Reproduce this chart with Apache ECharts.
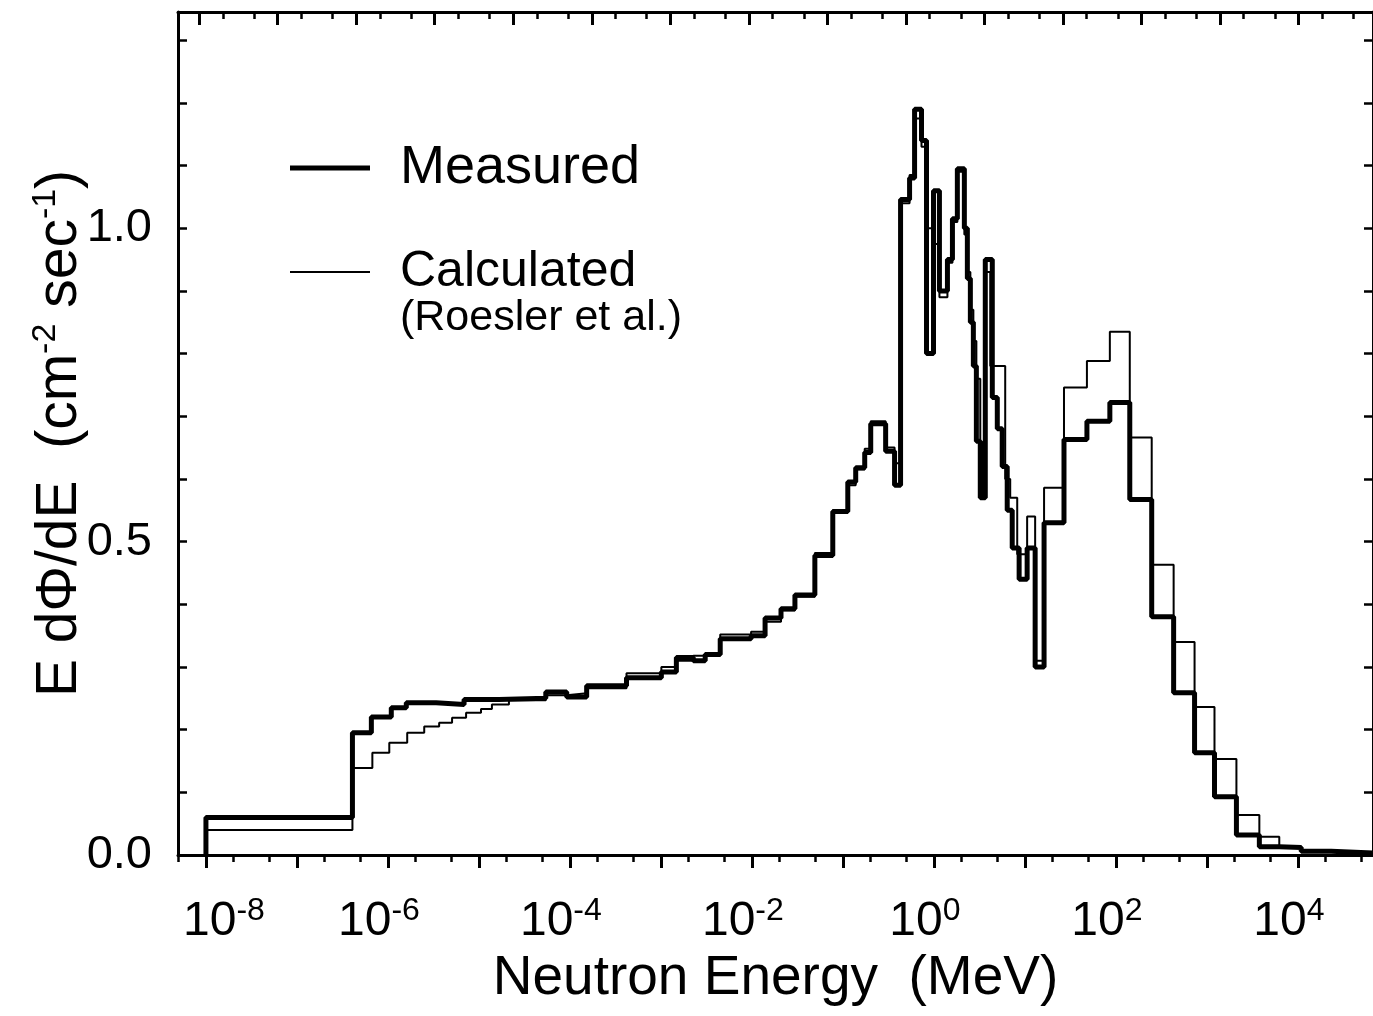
<!DOCTYPE html>
<html><head><meta charset="utf-8">
<script src="https://cdn.jsdelivr.net/npm/echarts@6/dist/echarts.min.js"></script>
<style>html,body{margin:0;padding:0;background:#fff}#c{width:1373px;height:1016px}</style>
</head><body><div id="c"></div>
<script>
// ---- data (bin left edges as log10(E / MeV), flux values) ----
const measuredLogE = [-8.000,-6.390,-6.182,-5.963,-5.798,-5.470,-5.163,-4.780,-4.265,-4.035,-3.816,-3.378,-2.995,-2.830,-2.644,-2.513,-2.348,-2.009,-1.855,-1.680,-1.527,-1.308,-1.111,-0.946,-0.859,-0.760,-0.694,-0.530,-0.432,-0.366,-0.267,-0.212,-0.136,-0.081,-0.004,0.061,0.149,0.204,0.258,0.335,0.368,0.401,0.434,0.467,0.510,0.565,0.642,0.697,0.751,0.806,0.861,0.937,1.025,1.113,1.211,1.430,1.682,1.934,2.153,2.394,2.635,2.865,3.084,3.325,3.577,3.796,4.037,4.366];
const measuredFlux = [0.060,0.195,0.220,0.235,0.243,0.240,0.248,0.250,0.260,0.252,0.270,0.283,0.292,0.315,0.310,0.320,0.345,0.350,0.378,0.393,0.415,0.478,0.548,0.595,0.618,0.642,0.688,0.644,0.590,1.046,1.080,1.190,1.140,0.800,1.060,0.900,0.950,1.015,1.095,1.000,0.920,0.850,0.780,0.660,0.570,0.950,0.730,0.680,0.620,0.550,0.490,0.440,0.490,0.300,0.530,0.663,0.692,0.722,0.567,0.380,0.259,0.163,0.093,0.032,0.013,0.012,0.006,0.003];
const calculatedLogE = [-8.000,-6.390,-6.171,-5.985,-5.788,-5.601,-5.437,-5.295,-5.141,-4.977,-4.857,-4.670,-4.265,-4.035,-3.816,-3.378,-2.995,-2.830,-2.644,-2.513,-2.348,-2.009,-1.855,-1.680,-1.527,-1.308,-1.111,-0.946,-0.859,-0.760,-0.694,-0.530,-0.432,-0.366,-0.267,-0.212,-0.136,-0.081,-0.004,0.061,0.149,0.204,0.258,0.335,0.368,0.401,0.434,0.467,0.510,0.565,0.620,0.784,0.839,0.916,1.025,1.113,1.211,1.430,1.682,1.934,2.153,2.394,2.635,2.865,3.084,3.325,3.577,3.796,4.037,4.366];
const calculatedFlux = [0.040,0.139,0.163,0.179,0.195,0.205,0.211,0.219,0.227,0.233,0.240,0.247,0.255,0.258,0.266,0.290,0.300,0.310,0.318,0.322,0.352,0.356,0.372,0.390,0.412,0.482,0.550,0.590,0.615,0.648,0.692,0.650,0.625,1.040,1.085,1.175,1.130,1.000,0.975,0.890,0.945,1.010,1.090,0.990,0.930,0.870,0.820,0.760,0.650,0.930,0.780,0.600,0.570,0.480,0.540,0.310,0.586,0.746,0.788,0.835,0.666,0.463,0.340,0.236,0.153,0.064,0.029,0.012,0.006,0.003];
const spectrumEndLogE = 4.83;
const energyLabelExponents = [-8,-6,-4,-2,0,2,4];
const energyTickExponents = [-8,-7,-6,-5,-4,-3,-2,-1,0,1,2,3,4];
const fluxLabels = [0, 0.5, 1.0];
const fluxTicks = [0,0.1,0.2,0.3,0.4,0.5,0.6,0.7,0.8,0.9,1.0,1.1,1.2,1.3];
const topTickExponents = [-1,0,1,2,3,4,5,6,7,8,9,10,11,12,13];

const FONT = "'Liberation Sans', Arial, Helvetica, sans-serif";
const pw = e => Math.pow(10, e);

function stepData(logE, flux) {
  const pts = [[pw(logE[0]), 0]];
  for (let i = 0; i < logE.length; i++) pts.push([pw(logE[i]), flux[i]]);
  pts.push([pw(spectrumEndLogE), flux[flux.length - 1]]);
  return pts;
}
function minorsOf(exps) {
  const out = [];
  exps.forEach(k => { out.push(2 * pw(k)); out.push(5 * pw(k)); });
  out.unshift(5 * pw(exps[0] - 1));
  return out;
}

const xMin = pw(-8.307), xMax = pw(4.826);
const tMin = pw(-1.269), tMax = pw(13.947);
const yMin = 0, yMax = 1.345;
const black = '#000';

const chart = echarts.init(document.getElementById('c'), null, {renderer: 'canvas'});
const noSplit = {show: false};
const supStyle = {fontSize: 32, lineHeight: 30, verticalAlign: 'top', fontFamily: FONT, color: black};
chart.setOption({
  animation: false,
  backgroundColor: '#fff',
  grid: {left: 178, right: -4, top: 12, bottom: 161, containLabel: false},
  xAxis: [
    {type: 'log', min: xMin, max: xMax, position: 'bottom',
     axisLine: {show: true, onZero: false, lineStyle: {color: black, width: 3}},
     axisTick: {show: true, inside: false, length: 13, lineStyle: {color: black, width: 3},
                customValues: energyTickExponents.map(pw)},
     axisLabel: {show: true, customValues: energyLabelExponents.map(pw), margin: 40,
                 formatter: v => {
                   const e = Math.round(Math.log10(v));
                   return (e === -8 ? '{a1|10}' : '{a|10}') + '{b|' + e + '}' + (e === -8 ? '' : '{p|}');
                 },
                 rich: {a: {fontSize: 48, lineHeight: 54, fontFamily: FONT, color: black},
                        a1: {fontSize: 48, lineHeight: 54, fontFamily: FONT, color: black, padding: [0, 0, 0, 36]},
                        b: supStyle,
                        p: {width: 18, lineHeight: 54}}},
     splitLine: noSplit, minorTick: {show: false}, minorSplitLine: {show: false},
     name: 'Neutron Energy  (MeV)', nameLocation: 'middle', nameGap: 96, nameMoveOverlap: false,
     nameTextStyle: {fontSize: 55, fontFamily: FONT, color: black}},
    {type: 'log', min: xMin, max: xMax, position: 'bottom',
     axisLine: {show: false, onZero: false},
     axisTick: {show: true, inside: false, length: 7, lineStyle: {color: black, width: 2.5},
                customValues: minorsOf(energyTickExponents)},
     axisLabel: {show: false}, splitLine: noSplit},
    {type: 'log', min: tMin, max: tMax, position: 'top',
     axisLine: {show: true, onZero: false, lineStyle: {color: black, width: 3}},
     axisTick: {show: true, inside: true, length: 13, lineStyle: {color: black, width: 3},
                customValues: topTickExponents.map(pw)},
     axisLabel: {show: false}, splitLine: noSplit},
    {type: 'log', min: tMin, max: tMax, position: 'top',
     axisLine: {show: false, onZero: false},
     axisTick: {show: true, inside: true, length: 7, lineStyle: {color: black, width: 2.5},
                customValues: minorsOf(topTickExponents)},
     axisLabel: {show: false}, splitLine: noSplit}
  ],
  yAxis: [
    {type: 'value', min: yMin, max: yMax, position: 'left',
     axisLine: {show: true, onZero: false, lineStyle: {color: black, width: 3}},
     axisTick: {show: true, inside: true, length: 9, lineStyle: {color: black, width: 2.5},
                customValues: fluxTicks},
     axisLabel: {show: true, customValues: fluxLabels, margin: 26, formatter: v => v.toFixed(1),
                 fontSize: 47, fontFamily: FONT, color: black},
     splitLine: noSplit,
     name: 'E dΦ/dE  (cm{s|-2} sec{s|-1})', nameLocation: 'middle', nameRotate: 90, nameGap: 87,
     nameMoveOverlap: false,
     nameTextStyle: {fontSize: 57, lineHeight: 62, fontFamily: FONT, color: black,
                     rich: {s: {fontSize: 34, lineHeight: 28, verticalAlign: 'top', fontFamily: FONT, color: black}}}},
    {type: 'value', min: yMin, max: yMax, position: 'right',
     axisLine: {show: true, onZero: false, lineStyle: {color: black, width: 3}},
     axisTick: {show: true, inside: true, length: 9, lineStyle: {color: black, width: 2.5},
                customValues: fluxTicks},
     axisLabel: {show: false}, splitLine: noSplit}
  ],
  legend: [
    {data: ['Measured'], left: 290, top: 138, padding: 0, icon: 'rect', itemWidth: 80, itemHeight: 5,
     itemStyle: {color: black}, selectedMode: false,
     textStyle: {fontSize: 54, lineHeight: 60, fontFamily: FONT, color: black, padding: [0, 0, 0, 25]}},
    {data: ['Calculated'], left: 290, top: 242, padding: 0, icon: 'rect', itemWidth: 80, itemHeight: 2,
     itemStyle: {color: black}, selectedMode: false,
     textStyle: {fontSize: 50, lineHeight: 60, fontFamily: FONT, color: black, padding: [0, 0, 0, 25]}}
  ],
  graphic: [
    {type: 'text', left: 400, top: 297,
     style: {text: '(Roesler et al.)', fontSize: 43, fontFamily: FONT, fill: black}}
  ],
  series: [
    {type: 'line', name: 'Calculated', xAxisIndex: 0, yAxisIndex: 0, step: 'end',
     data: stepData(calculatedLogE, calculatedFlux), symbol: 'none', showSymbol: false,
     color: black, lineStyle: {color: black, width: 2}, z: 2, silent: true},
    {type: 'line', name: 'Measured', xAxisIndex: 0, yAxisIndex: 0, step: 'end',
     data: stepData(measuredLogE, measuredFlux), symbol: 'none', showSymbol: false,
     color: black, lineStyle: {color: black, width: 5}, z: 3, silent: true}
  ]
});
</script></body></html>
